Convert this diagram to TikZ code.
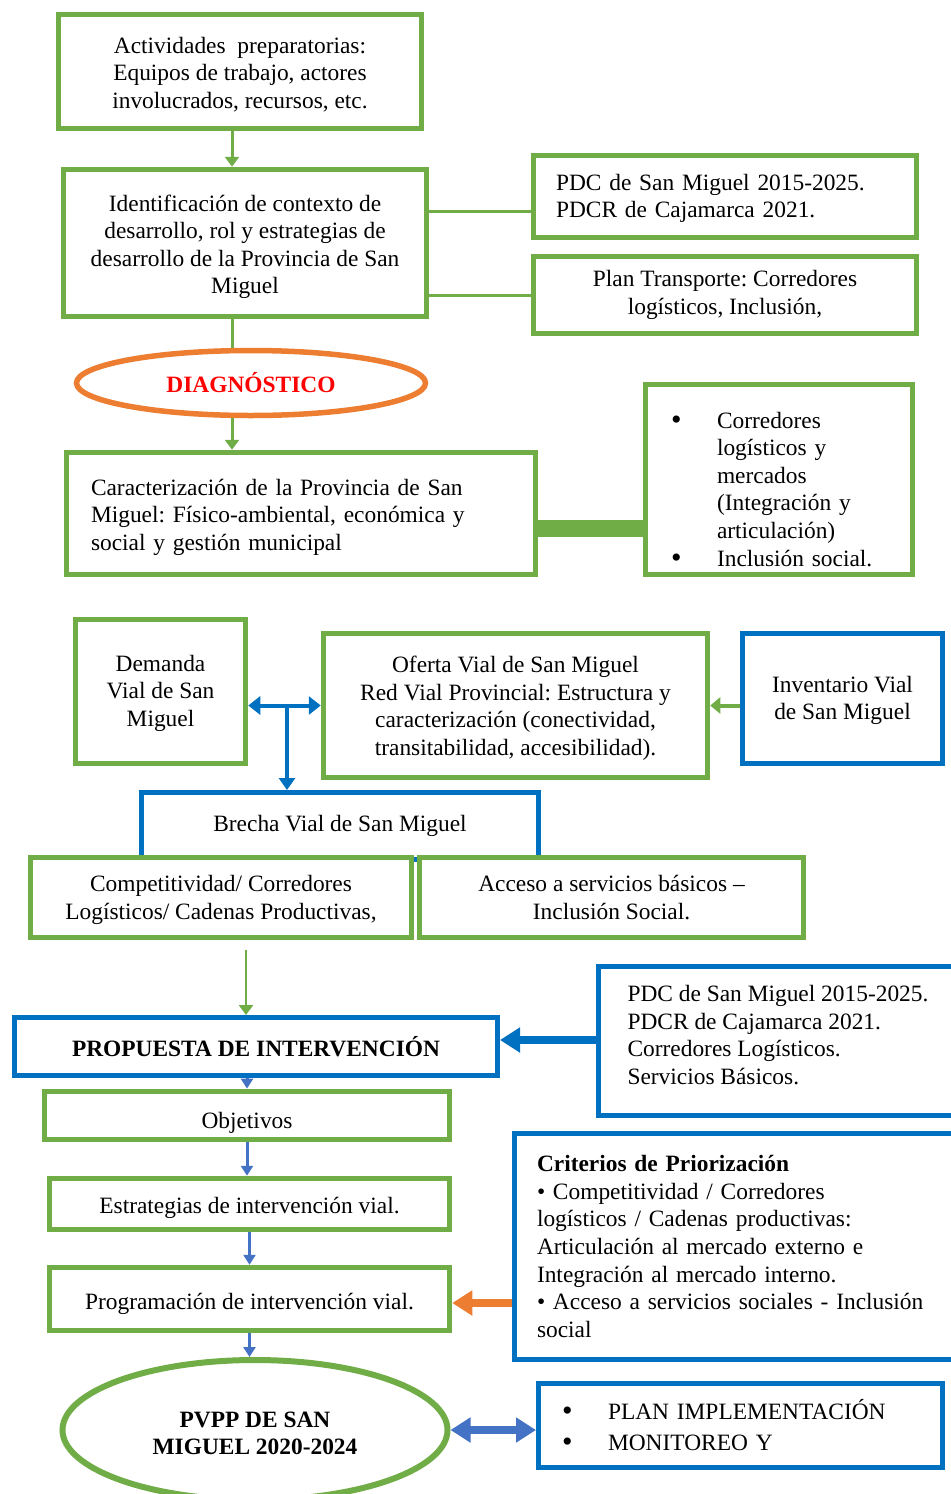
\documentclass[tikz,border=0pt]{standalone}
\usepackage{fontspec}
\setmainfont{Liberation Serif}
\usetikzlibrary{shapes.geometric,arrows.meta}
\definecolor{verde}{RGB}{112,173,71}
\definecolor{azul}{RGB}{0,112,192}
\definecolor{azulc}{RGB}{68,114,196}
\definecolor{naranja}{RGB}{237,125,49}
\newcommand{\bitem}{\makebox[21pt][l]{\hspace*{-2pt}\raisebox{-0.5pt}{\fontsize{15}{13.8}\selectfont\textbullet}}}
\newcommand{\bsang}{\hspace*{21pt}}
\frenchspacing

\begin{document}
\begin{tikzpicture}[x=0.5pt,y=-0.5pt,font=\fontsize{11.7}{13.8}\selectfont]

\tikzset{
  gbox/.style={draw=verde,line width=2.75pt,fill=white,align=center},
  bbox/.style={draw=azul,line width=2.5pt,fill=white,align=center},
  gline/.style={verde,line width=1.5pt},
  garrow/.style={verde,line width=1.5pt,-{Triangle[length=5pt,width=7pt]}},
  barrow/.style={azulc,line width=1.5pt,-{Triangle[length=5pt,width=6pt]}},
  thickarrow/.style={line width=4pt,-{Triangle[length=10pt,width=12pt]}},
  thickboth/.style={line width=4pt,{Triangle[length=10pt,width=12pt]}-{Triangle[length=10pt,width=12pt]}}
}
\useasboundingbox (0,0) rectangle (950,1494);

\node[gbox,minimum width=181.5pt,minimum height=57pt] (act) at (240,71.5) {\rule{0pt}{11pt}Actividades~ preparatorias:\\Equipos de trabajo, actores\\involucrados, recursos, etc.};
\node[gbox,minimum width=181.5pt,minimum height=73.5pt] (ide) at (245,243) {\rule{0pt}{12pt}Identificación de contexto de\\desarrollo, rol y estrategias de\\desarrollo de la Provincia de San\\Miguel};
\node[gbox,minimum width=191.5pt,minimum height=41pt,text width=169pt,align=left] (pdca) at (725,196.5) {\rule{0pt}{10pt}PDC de San Miguel 2015-2025.\\PDCR de Cajamarca 2021.};
\node[gbox,minimum width=191.5pt,minimum height=38.5pt] (plt) at (725,295) {Plan Transporte: Corredores\\logísticos, Inclusión,};
\node[ellipse,draw=naranja,line width=2.75pt,fill=white,minimum width=174.5pt,minimum height=32.5pt,text=red] (diag) at (251,383) {\textbf{DIAGNÓSTICO}};
\node[gbox,minimum width=234.5pt,minimum height=61pt,text width=210pt,align=left] (car) at (301,513.5) {\rule{0pt}{12pt}Caracterización de la Provincia de San\\Miguel: Físico-ambiental, económica y\\social y gestión municipal};
\node[gbox,minimum width=133.5pt,minimum height=95pt,text width=104pt,align=left] (bul) at (779,479.5) {\rule{0pt}{18pt}\bitem Corredores\\\bsang logísticos y\\\bsang mercados\\\bsang (Integración y\\\bsang articulación)\\\bitem Inclusión social.};

\node[gbox,minimum width=85pt,minimum height=72pt] (dem) at (160.5,691.5) {\rule{0pt}{10pt}Demanda\\Vial de San\\Miguel};
\node[gbox,minimum width=192pt,minimum height=72pt] (ofe) at (515.5,705.5) {\rule{0pt}{11pt}Oferta Vial de San Miguel\\Red Vial Provincial: Estructura y\\caracterización (conectividad,\\transitabilidad, accesibilidad).};
\node[bbox,minimum width=100pt,minimum height=65pt] (inv) at (842.5,698.5) {\rule{0pt}{10pt}Inventario Vial\\de San Miguel};
\node[bbox,minimum width=198.5pt,minimum height=33.5pt] (bre) at (340,826) {Brecha Vial de San Miguel};
\node[gbox,minimum width=190.5pt,minimum height=40pt] (com) at (221,897.5) {\rule{0pt}{10.5pt}Competitividad/ Corredores\\Logísticos/ Cadenas Productivas,};
\node[gbox,minimum width=192pt,minimum height=40pt] (acc) at (611.5,897.5) {Acceso a servicios básicos --\\Inclusión Social.};

\node[bbox,minimum width=241.5pt,minimum height=29pt] (pro) at (256,1046.5) {\textbf{PROPUESTA DE INTERVENCIÓN}};
\node[bbox,minimum width=179.5pt,minimum height=74.5pt,align=left] (pdcb) at (778,1041) {PDC de San Miguel 2015-2025.\\PDCR de Cajamarca 2021.\\Corredores Logísticos.\\Servicios Básicos.\rule[-6pt]{0pt}{0pt}};
\node[gbox,minimum width=202.5pt,minimum height=23pt] (obj) at (247,1115.5) {\rule{0pt}{15pt}Objetivos};
\node[gbox,minimum width=200pt,minimum height=25.5pt] (est) at (249.5,1204) {\rule{0pt}{12pt}Estrategias de intervención vial.};
\node[gbox,minimum width=200pt,minimum height=31.5pt] (prg) at (249.5,1299) {\rule{0pt}{13pt}Programación de intervención vial.};
\node[bbox,minimum width=221.5pt,minimum height=113pt,text width=199pt,align=left] (cri) at (736,1246.5) {\textbf{Criterios de Priorización}\\\textbullet{} Competitividad / Corredores\\logísticos / Cadenas productivas:\\Articulación al mercado externo e\\Integración al mercado interno.\\\textbullet{} Acceso a servicios sociales - Inclusión\\social};
\node[ellipse,draw=verde,line width=3pt,fill=white,align=center,minimum width=192.5pt,minimum height=70pt] (pvpp) at (255,1430) {\rule{0pt}{11pt}\textbf{PVPP DE SAN}\\\textbf{MIGUEL 2020-2024}};
\node[bbox,minimum width=202pt,minimum height=42pt,text width=174.5pt,align=left] (plan) at (740.5,1425.5) {\bitem PLAN IMPLEMENTACIÓN\\[1.5pt]\bitem MONITOREO Y};

\coordinate (eje) at (232,0);
\draw[garrow] (act.south -| eje) -- (ide.north -| eje);
\draw[gline] (ide.south -| eje) -- (diag.north -| eje);
\draw[garrow] (diag.south -| eje) -- (car.north -| eje);
\draw[gline] ([yshift=-7.25pt]pdca.west -| ide.east) -- ([yshift=-7.25pt]pdca.west);
\draw[gline] (plt.west -| ide.east) -- (plt.west);
\draw[verde,line width=8.5pt] ([yshift=-7.25pt]car.east) -- ([yshift=-7.25pt]car.east -| bul.west);

\coordinate (nudo) at (287,705.5);
\draw[azul,line width=2pt,{Triangle[length=6pt,width=9pt]}-{Triangle[length=6pt,width=9pt]}] (dem.east |- ofe.west) -- (ofe.west);
\draw[azul,line width=2pt,-{Triangle[length=6pt,width=8pt]}] (nudo) -- (nudo |- bre.north);
\draw[verde,line width=2pt,-{Triangle[length=5pt,width=8pt]}] (inv.west |- ofe.east) -- (ofe.east);

\coordinate (baja) at (246,950);
\draw[garrow,line width=1.25pt] (baja) -- (baja |- pro.north);
\draw[thickarrow,azul] ([yshift=3.25pt]pro.east -| pdcb.west) -- ([yshift=3.25pt]pro.east);
\draw[barrow] (pro.south -| obj.north) -- (obj.north);
\draw[barrow] (obj.south) -- (obj.south |- est.north);
\draw[barrow] (est.south) -- (est.south |- prg.north);
\draw[barrow] (prg.south) -- (prg.south |- pvpp.north);
\draw[thickarrow,naranja] ([yshift=-2pt]prg.east -| cri.west) -- ([yshift=-2pt]prg.east);
\draw[thickboth,azulc] (pvpp.east) -- (pvpp.east -| plan.west);

\end{tikzpicture}
\end{document}
